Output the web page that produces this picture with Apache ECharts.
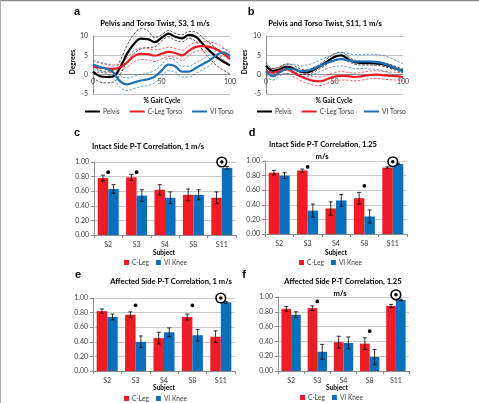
<!DOCTYPE html>
<html><head><meta charset="utf-8">
<script src="https://cdn.jsdelivr.net/npm/echarts@6/dist/echarts.min.js"></script>
<style>html,body{margin:0;padding:0;background:#fff}#c{width:479px;height:403px}</style>
</head><body><div id="c"></div><script>
// ---------- data: gait curves ----------
const gaitPct = [0,5,10,15,20,25,30,35,40,45,50,55,60,65,70,75,80,85,90,95,100];
const xTicks = [0,50,100];
const yTicksDeg = [-5,0,5,10];
// Panel a: S3, 1 m/s
const pelvisS3     = [0.8,-0.4,-0.6,-0.4,2.0,5.5,8.0,9.3,9.2,8.4,9.5,10.6,9.8,9.4,10.3,9.8,8.0,6.2,4.6,3.4,2.4];
const pelvisS3Sd   = [1.5,1.5,1.5,1.5,1.8,2.2,2.5,2.6,2.2,1.2,0.8,0.8,0.9,0.9,0.9,1.2,1.6,2.0,2.2,2.2,2.2];
const cLegTorsoS3  = [2.0,1.8,1.6,1.5,1.9,3.2,4.8,5.4,5.3,4.9,5.4,5.9,5.6,5.0,6.2,7.2,7.4,7.2,6.6,5.5,4.0];
const cLegTorsoS3Sd= [1.5,1.2,1.0,1.0,1.0,1.2,1.4,1.5,1.5,1.5,1.3,1.2,1.2,1.3,1.3,1.2,1.2,1.3,1.4,1.5,1.5];
const viTorsoS3    = [2.6,2.0,1.5,0.5,-1.8,-2.5,-2.0,-1.5,-1.2,-0.5,1.0,2.6,2.2,0.8,0.8,1.7,2.7,3.7,5.0,5.8,4.8];
const viTorsoS3Sd  = [1.2,1.2,1.3,1.5,1.6,1.6,1.6,1.6,1.6,1.6,1.6,1.6,1.5,1.4,1.4,1.4,1.4,1.4,1.2,1.0,1.0];
// Panel b: S11, 1 m/s
const pelvisS11     = [2.3,1.0,1.4,2.0,1.6,0.8,0.6,1.3,2.3,3.5,4.6,5.0,4.0,3.2,3.0,3.0,2.9,2.7,2.2,1.6,1.0];
const pelvisS11Sd   = [0.8,0.6,0.6,0.8,0.8,0.7,0.6,0.6,0.6,0.7,0.8,0.8,0.6,0.5,0.5,0.5,0.5,0.5,0.5,0.5,0.5];
const cLegTorsoS11  = [0.9,0.5,1.0,1.4,0.6,-0.4,-1.1,-1.6,-1.7,-1.1,-0.5,-0.3,-0.4,-0.6,-0.4,-0.1,0.0,-0.1,-0.3,-0.4,-0.6];
const cLegTorsoS11Sd= [1.0,1.0,1.0,1.1,1.1,1.1,1.1,1.1,1.1,1.1,1.1,1.1,1.0,1.0,1.0,1.0,1.0,1.0,1.0,1.0,1.0];
const viTorsoS11    = [0.9,-0.4,0.6,1.5,1.4,0.9,1.0,1.6,2.4,3.1,3.7,4.0,3.7,3.4,3.4,3.4,3.3,3.0,2.4,1.6,0.8];
const viTorsoS11Sd  = [1.2,1.0,1.0,1.2,1.3,1.4,1.5,1.5,1.5,1.5,1.6,1.7,1.8,1.8,1.8,1.9,1.9,2.0,2.0,2.0,2.0];

// ---------- data: correlation bars ----------
const subjects = ['S2','S3','S4','S8','S11'];
const yTicksCorr = [0,0.2,0.4,0.6,0.8,1.0];
// c: intact side, 1 m/s
const cLegC = [0.78,0.79,0.62,0.55,0.51];  const cLegErrC = [0.04,0.04,0.07,0.08,0.08];
const viC   = [0.63,0.54,0.51,0.55,0.92];  const viErrC   = [0.06,0.08,0.08,0.07,0.02];
const sigC  = [[0,0.86],[1,0.86]];         const targetC  = [[4,1.00]];
// d: intact side, 1.25 m/s
const cLegD = [0.84,0.87,0.35,0.49,0.91];  const cLegErrD = [0.03,0.02,0.09,0.08,0.01];
const viD   = [0.80,0.32,0.46,0.24,0.96];  const viErrD   = [0.04,0.09,0.08,0.09,0.01];
const sigD  = [[1,0.92],[3,0.66]];         const targetD  = [[4,0.99]];
// e: affected side, 1 m/s
const cLegE = [0.82,0.77,0.45,0.74,0.47];  const cLegErrE = [0.03,0.04,0.08,0.04,0.08];
const viE   = [0.74,0.40,0.53,0.49,0.94];  const viErrE   = [0.04,0.08,0.06,0.08,0.01];
const sigE  = [[1,0.90],[3,0.90]];         const targetE  = [[4,1.00]];
// f: affected side, 1.25 m/s
const cLegF = [0.84,0.85,0.39,0.37,0.88];  const cLegErrF = [0.03,0.03,0.08,0.08,0.02];
const viF   = [0.76,0.26,0.38,0.19,0.96];  const viErrF   = [0.04,0.10,0.08,0.10,0.01];
const sigF  = [[1,0.94],[3,0.54]];         const targetF  = [[4,1.03]];

// ---------- styling ----------
const RED = '#ee1c24', BLUE = '#0a6fbd', BLACK = '#000';
const LINE_BLUE = '#1f72b8';
const FONT = 'Lato, "Open Sans", sans-serif';
const LBL = '#404040';

const grids = [
  {left:93,  top:36,  width:137, height:58},
  {left:266, top:36,  width:137, height:58},
  {left:94,  top:162, width:142, height:73},
  {left:265, top:161, width:142, height:73},
  {left:93,  top:298, width:142, height:73},
  {left:278, top:297, width:131, height:74}
];

const xAxes = [], yAxes = [], series = [];

function lineAxes(g){
  const h = grids[g].height;
  const zeroShift = h * (0 - yTicksDeg[0]) / (yTicksDeg[yTicksDeg.length-1] - yTicksDeg[0]);
  xAxes.push({type:'value', gridIndex:g, min:xTicks[0], max:xTicks[xTicks.length-1], interval:50,
    position:'bottom', offset:-zeroShift,
    axisLine:{onZero:false, lineStyle:{color:'#8c8c8c', width:1}},
    axisTick:{show:false}, splitLine:{show:false},
    axisLabel:{fontSize:7, color:LBL, fontFamily:FONT, margin:4}});
  yAxes.push({type:'value', gridIndex:g, min:yTicksDeg[0], max:yTicksDeg[yTicksDeg.length-1], interval:5,
    axisLine:{show:true, onZero:false, lineStyle:{color:'#8c8c8c', width:1}},
    axisTick:{show:false},
    splitLine:{lineStyle:{color:'#b4b4b4', width:0.8}},
    axisLabel:{fontSize:7, color:LBL, fontFamily:FONT, margin:5}});
}
function lineSet(g, name, mean, sd, color){
  const up = gaitPct.map((x,i)=>[x, mean[i]+sd[i]]);
  const lo = gaitPct.map((x,i)=>[x, mean[i]-sd[i]]);
  [up, lo].forEach((d,k)=>series.push({type:'line', name:name+(k?' -SD':' +SD'), xAxisIndex:g, yAxisIndex:g,
    data:d, smooth:0.4, showSymbol:false, clip:false, silent:true, z:2,
    lineStyle:{color:color, width:0.8, type:[2.5,1.5], opacity:0.85}, itemStyle:{color:color}}));
  series.push({type:'line', name:name, xAxisIndex:g, yAxisIndex:g,
    data:gaitPct.map((x,i)=>[x, mean[i]]), smooth:0.4, showSymbol:false, clip:false, z:3,
    lineStyle:{color:color, width:2.2}, itemStyle:{color:color}});
}

function barAxes(g){
  xAxes.push({type:'category', gridIndex:g, data:subjects,
    axisLine:{lineStyle:{color:'#8c8c8c', width:1}},
    axisTick:{show:true, length:3, lineStyle:{color:'#8c8c8c'}},
    axisLabel:{fontSize:7, color:LBL, fontFamily:FONT, margin:6}});
  yAxes.push({type:'value', gridIndex:g, min:0, max:1, interval:0.2,
    axisLine:{show:true, lineStyle:{color:'#8c8c8c', width:1}},
    axisTick:{show:true, length:3, lineStyle:{color:'#8c8c8c'}},
    splitLine:{lineStyle:{color:'#bcbcbc', width:0.8}},
    axisLabel:{fontSize:7, color:LBL, fontFamily:FONT, margin:5, formatter:v=>v.toFixed(2)}});
}
const HALF = 0.185;
function errRender(side){
  return function(params, api){
    const i = api.value(0), lo = api.value(1), hi = api.value(2);
    const band = api.size([1,0])[0];
    const p1 = api.coord([i, lo]), p2 = api.coord([i, hi]);
    const x = p1[0] + side*band*HALF, cap = 2;
    const st = {stroke:'#000', lineWidth:0.8};
    return {type:'group', children:[
      {type:'line', shape:{x1:x,y1:p1[1],x2:x,y2:p2[1]}, style:st},
      {type:'line', shape:{x1:x-cap,y1:p1[1],x2:x+cap,y2:p1[1]}, style:st},
      {type:'line', shape:{x1:x-cap,y1:p2[1],x2:x+cap,y2:p2[1]}, style:st}
    ]};
  };
}
function dotRender(params, api){
  const p = api.coord([api.value(0), api.value(1)]);
  return {type:'circle', shape:{cx:p[0], cy:p[1], r:1.9}, style:{fill:'#000'}};
}
function targetRender(params, api){
  const p = api.coord([api.value(0), api.value(1)]);
  return {type:'group', children:[
    {type:'circle', shape:{cx:p[0], cy:p[1], r:4.8}, style:{fill:'#fff', stroke:'#000', lineWidth:1.6}},
    {type:'circle', shape:{cx:p[0], cy:p[1], r:1.8}, style:{fill:'#000'}}
  ]};
}
function barPanel(g, cl, clErr, vi, viErr, sig, tgt){
  barAxes(g);
  series.push({type:'bar', name:'C-Leg', xAxisIndex:g, yAxisIndex:g, data:cl, barWidth:'37%', barGap:'0%', itemStyle:{color:RED}, z:2});
  series.push({type:'bar', name:'VI Knee', xAxisIndex:g, yAxisIndex:g, data:vi, barWidth:'37%', barGap:'0%', itemStyle:{color:BLUE}, z:2});
  series.push({type:'custom', name:'errC', xAxisIndex:g, yAxisIndex:g, renderItem:errRender(-1), z:4, silent:true,
    data:cl.map((v,i)=>[i, v-clErr[i], v+clErr[i]]), encode:{x:0, y:[1,2]}});
  series.push({type:'custom', name:'errV', xAxisIndex:g, yAxisIndex:g, renderItem:errRender(1), z:4, silent:true,
    data:vi.map((v,i)=>[i, v-viErr[i], v+viErr[i]]), encode:{x:0, y:[1,2]}});
  series.push({type:'custom', name:'sig', xAxisIndex:g, yAxisIndex:g, renderItem:dotRender, z:5, silent:true, clip:false,
    data:sig, encode:{x:0, y:1}});
  series.push({type:'custom', name:'tgt', xAxisIndex:g, yAxisIndex:g, renderItem:targetRender, z:6, silent:true, clip:false,
    data:tgt, encode:{x:0, y:1}});
}

lineAxes(0);
lineSet(0,'Pelvis',pelvisS3,pelvisS3Sd,BLACK);
lineSet(0,'C-Leg Torso',cLegTorsoS3,cLegTorsoS3Sd,RED);
lineSet(0,'VI Torso',viTorsoS3,viTorsoS3Sd,LINE_BLUE);
lineAxes(1);
lineSet(1,'Pelvis',pelvisS11,pelvisS11Sd,BLACK);
lineSet(1,'C-Leg Torso',cLegTorsoS11,cLegTorsoS11Sd,RED);
lineSet(1,'VI Torso',viTorsoS11,viTorsoS11Sd,LINE_BLUE);
barPanel(2, cLegC, cLegErrC, viC, viErrC, sigC, targetC);
barPanel(3, cLegD, cLegErrD, viD, viErrD, sigD, targetD);
barPanel(4, cLegE, cLegErrE, viE, viErrE, sigE, targetE);
barPanel(5, cLegF, cLegErrF, viF, viErrF, sigF, targetF);

// ---------- text ----------
function txt(x, y, text, font, opts){
  return Object.assign({type:'text', x:x, y:y, silent:true,
    style:{text:text, font:font, fill:'#000', textAlign:'center', textVerticalAlign:'middle'}}, opts||{});
}
const TB = 'bold 7.6px ' + FONT;
const LET = 'bold 11px "Liberation Sans", Arial, sans-serif';
const AX = 'bold 6.6px ' + FONT;
const graphics = [
  {type:'line', shape:{x1:0,y1:0.5,x2:479,y2:0.5}, style:{stroke:'#8a8a8a', lineWidth:1.5}, silent:true},
  {type:'line', shape:{x1:0.5,y1:0,x2:0.5,y2:403}, style:{stroke:'#b0b0b0', lineWidth:1}, silent:true},
  txt(77,12,'a',LET), txt(251,12,'b',LET), txt(77,133,'c',LET), txt(252,133,'d',LET), txt(78,275,'e',LET), txt(244,275,'f',LET),
  txt(155,24,'Pelvis and Torso Twist, S3, 1 m/s',TB), txt(325,24,'Pelvis and Torso Twist, S11, 1 m/s',TB),
  txt(148,147,'Intact Side P-T Correlation, 1 m/s',TB),
  txt(323,145,'Intact Side P-T Correlation, 1.25',TB), txt(322,157,'m/s',TB),
  txt(171,282,'Affected Side P-T Correlation, 1 m/s',TB),
  txt(343,282,'Affected Side P-T Correlation, 1.25',TB), txt(340,294,'m/s',TB),
  txt(73,62,'Degrees',AX,{rotation:Math.PI/2}), txt(245,62,'Degrees',AX,{rotation:Math.PI/2}),
  txt(162,101,'% Gait Cycle',AX), txt(334,101,'% Gait Cycle',AX),
  txt(164,253,'Subject',AX), txt(336,253,'Subject',AX), txt(164,388,'Subject',AX), txt(337,388,'Subject',AX)
];

const legTxt = {fontSize:6.6, color:'#404040', fontFamily:FONT, padding:[0,0,0,-2]};
function lineLegend(left){
  return {left:left, top:108, data:['Pelvis','C-Leg Torso','VI Torso'], icon:'rect', itemWidth:15, itemHeight:2,
    itemGap:10, padding:0, textStyle:legTxt, selectedMode:false};
}
function barLegend(left, top){
  return {left:left, top:top, data:['C-Leg','VI Knee'], icon:'rect', itemWidth:5, itemHeight:5,
    itemGap:7, padding:0, textStyle:legTxt, selectedMode:false};
}

const chart = echarts.init(document.getElementById('c'), null, {renderer:'canvas'});
chart.setOption({
  animation:false,
  backgroundColor:'#fff',
  grid:grids,
  xAxis:xAxes, yAxis:yAxes, series:series,
  legend:[lineLegend(85), lineLegend(257), barLegend(124,259), barLegend(299,259), barLegend(124,395), barLegend(300,394)],
  graphic:graphics
});
</script></body></html>
